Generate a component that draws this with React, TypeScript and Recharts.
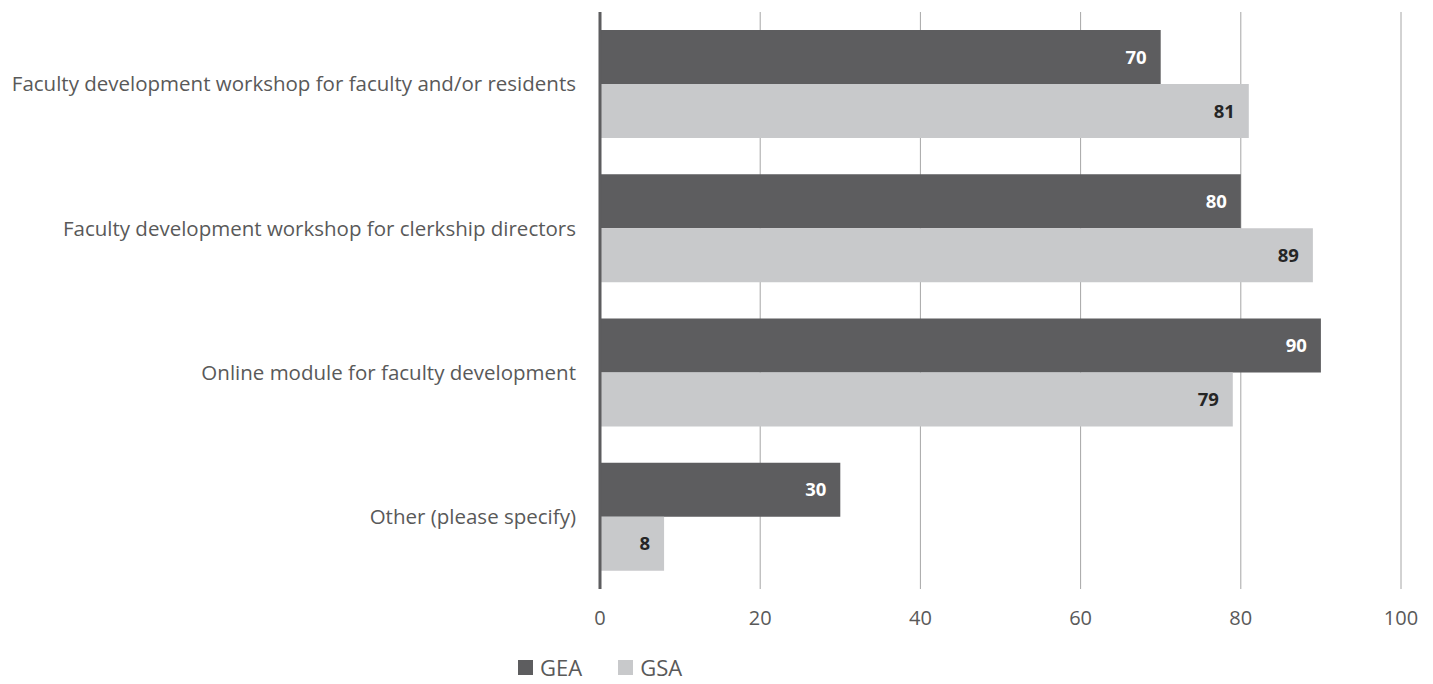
import { BarChart, Bar, XAxis, YAxis, CartesianGrid, Legend, LabelList } from 'recharts';

const categories = [
  'Faculty development workshop for faculty and/or residents',
  'Faculty development workshop for clerkship directors',
  'Online module for faculty development',
  'Other (please specify)',
];
const geaValues = [70, 80, 90, 30];
const gsaValues = [81, 89, 79, 8];
const xTicks = [0, 20, 40, 60, 80, 100];

const COLORS = {
  gea: '#5d5d5f',
  gsa: '#c8c9cb',
  text: '#595959',
  grid: '#a6a6a6',
};

const FONT = '"Open Sans", sans-serif';

const chartData = categories.map((name, i) => ({
  name,
  GEA: geaValues[i],
  GSA: gsaValues[i],
}));

function LegendContent() {
  const items = [
    { label: 'GEA', color: COLORS.gea },
    { label: 'GSA', color: COLORS.gsa },
  ];
  return (
    <div style={{ display: 'flex', paddingLeft: 518, fontFamily: FONT, fontSize: 22, color: COLORS.text, height: 26, lineHeight: '26px' }}>
      {items.map(item => (
        <div key={item.label} style={{ display: 'flex', alignItems: 'center', marginRight: 36 }}>
          <span style={{ width: 15, height: 15, background: item.color, display: 'inline-block', marginRight: 7 }} />
          <span>{item.label}</span>
        </div>
      ))}
    </div>
  );
}

export default function App() {
  return (
    <div style={{ position: 'absolute', left: 0, top: 0, width: 1433, height: 684, background: '#fff' }}>
      <BarChart
        width={1433}
        height={684}
        data={chartData}
        layout="vertical"
        margin={{ top: 12, right: 32, bottom: 39, left: 0 }}
        barCategoryGap={18}
        barGap={0}
      >
        <CartesianGrid horizontal={false} vertical stroke={COLORS.grid} strokeWidth={1} />
        <XAxis
          type="number"
          domain={[0, 100]}
          ticks={xTicks}
          axisLine={false}
          tickLine={false}
          tickMargin={16}
          tick={{ fill: COLORS.text, fontSize: 20, fontFamily: FONT }}
        />
        <YAxis
          type="category"
          dataKey="name"
          width={600}
          axisLine={{ stroke: '#5d5d5f', strokeWidth: 3 }}
          tickLine={false}
          tickSize={0}
          tickMargin={24}
          tick={{ fill: COLORS.text, fontSize: 20.5, fontFamily: FONT }}
        />
        <Legend verticalAlign="bottom" align="left" height={26} content={<LegendContent />} wrapperStyle={{ bottom: 4, left: 0 }} />
        <Bar dataKey="GEA" fill={COLORS.gea} isAnimationActive={false}>
          <LabelList
            dataKey="GEA"
            position="insideRight"
            offset={14}
            fill="#ffffff"
            style={{ fontWeight: 700, fontSize: 18.5, fontFamily: FONT }}
          />
        </Bar>
        <Bar dataKey="GSA" fill={COLORS.gsa} isAnimationActive={false}>
          <LabelList
            dataKey="GSA"
            position="insideRight"
            offset={14}
            fill="#262626"
            style={{ fontWeight: 700, fontSize: 18.5, fontFamily: FONT }}
          />
        </Bar>
      </BarChart>
    </div>
  );
}
